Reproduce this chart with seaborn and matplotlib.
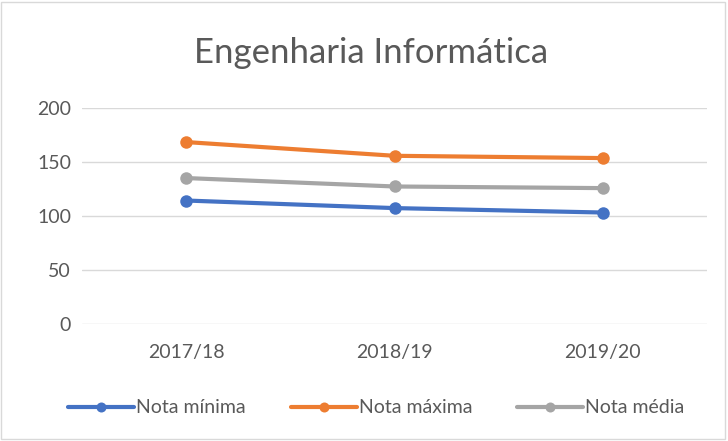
import pandas as pd
import matplotlib.pyplot as plt
import seaborn as sns

years = ["2017/18", "2018/19", "2019/20"]
nota_minima = [114.4, 107.4, 103.3]
nota_maxima = [168.5, 155.8, 153.7]
nota_media = [135.2, 127.4, 125.9]

series = {"Nota mínima": nota_minima, "Nota máxima": nota_maxima, "Nota média": nota_media}
df = pd.DataFrame(
    [(y, name, v) for name, vals in series.items() for y, v in zip(years, vals)],
    columns=["ano", "serie", "nota"],
)

sns.set_style("white")
plt.rcParams["font.family"] = ["Lato", "DejaVu Sans"]
text_col = "#595959"

fig = plt.figure(figsize=(7.28, 4.41), dpi=100)
ax = fig.add_axes([0.113, 0.265, 0.858, 0.49])
palette = {"Nota mínima": "#4472C4", "Nota máxima": "#ED7D31", "Nota média": "#A5A5A5"}
sns.lineplot(data=df, x="ano", y="nota", hue="serie", palette=palette, marker="o",
             markersize=9, markeredgewidth=0, linewidth=3, ax=ax, sort=False)

ax.set_xlim(-0.5, 2.5)
ax.set_ylim(0, 200)
ax.set_yticks([0, 50, 100, 150, 200])
ax.yaxis.grid(True, color="#d9d9d9", linewidth=1)
ax.set_axisbelow(True)
for s in ax.spines.values():
    s.set_visible(False)
ax.tick_params(axis="both", length=0, labelsize=14, colors=text_col, pad=8)
ax.tick_params(axis="x", pad=14)
ax.set_xlabel("")
ax.set_ylabel("")
fig.text(0.51, 0.88, "Engenharia Informática", fontsize=25, color=text_col,
         ha="center", va="center")

# legend below the plot, centred on the figure
handles, labels = ax.get_legend_handles_labels()
ax.get_legend().remove()
fig.legend(handles, labels, loc="center", bbox_to_anchor=(0.517, 0.075), ncol=3,
           frameon=False, fontsize=14, labelcolor=text_col, handlelength=3.4,
           handletextpad=0.1, columnspacing=2.3, markerscale=0.8)

fig.patches.append(plt.Rectangle((0.002, 0.005), 0.994, 0.99, transform=fig.transFigure,
                                 fill=False, edgecolor="#d9d9d9", linewidth=1))
fig.savefig("out.png", dpi=100)
